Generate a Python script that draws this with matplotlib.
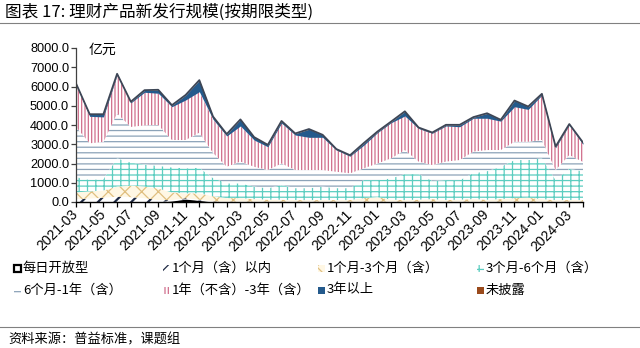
import numpy as np
import matplotlib
matplotlib.use('Agg')
import matplotlib.pyplot as plt
from matplotlib.patches import Rectangle
from matplotlib.lines import Line2D

plt.rcParams['font.family'] = ['Noto Sans CJK SC', 'DejaVu Sans']
plt.rcParams['hatch.linewidth'] = 0.9

months = ['2021-03', '2021-04', '2021-05', '2021-06', '2021-07', '2021-08', '2021-09', '2021-10',
          '2021-11', '2021-12', '2022-01', '2022-02', '2022-03', '2022-04', '2022-05', '2022-06',
          '2022-07', '2022-08', '2022-09', '2022-10', '2022-11', '2022-12', '2023-01', '2023-02',
          '2023-03', '2023-04', '2023-05', '2023-06', '2023-07', '2023-08', '2023-09', '2023-10',
          '2023-11', '2023-12', '2024-01', '2024-02', '2024-03', '2024-04']

# 亿元
daily_open = [0, 0, 0, 0, 0, 0, 0, 50, 150, 80, 0, 0, 0, 0, 0, 0, 0, 0, 0,
              0, 0, 0, 0, 0, 0, 0, 0, 0, 0, 0, 0, 0, 0, 0, 0, 0, 0, 0]
within_1m = [150, 180, 220, 280, 250, 200, 100, 50, 50, 40, 30, 20, 20, 20, 20, 20, 20, 20, 20,
             20, 20, 20, 20, 20, 20, 20, 20, 20, 20, 20, 20, 20, 20, 20, 20, 20, 20, 20]
m1_to_m3 = [350, 370, 380, 520, 600, 600, 600, 400, 250, 330, 270, 180, 180, 130, 100, 100, 80, 80, 80,
            80, 80, 180, 230, 100, 80, 100, 130, 80, 100, 130, 100, 130, 180, 200, 130, 80, 80, 80]
m3_to_m6 = [800, 600, 600, 1470, 1200, 1150, 1180, 1300, 1300, 1330, 950, 770, 770, 650, 600, 760, 620, 620, 700,
            620, 620, 940, 890, 1110, 1350, 1330, 950, 1040, 1020, 1350, 1480, 1680, 1980, 1960, 2120, 1050, 1620, 1500]
m6_to_1y = [2600, 1900, 1920, 2330, 1850, 2030, 2120, 1420, 1470, 1820, 1300, 860, 1130, 1030, 940, 1120, 940, 940, 860,
            850, 770, 610, 860, 1040, 1250, 650, 820, 960, 1040, 1120, 1100, 870, 950, 950, 950, 510, 720, 480]
y1_to_y3 = [2200, 1400, 1300, 2000, 1250, 1720, 1650, 1730, 2080, 2130, 1750, 1600, 1850, 1390, 1210, 2100, 1820, 1700, 1700,
            1130, 890, 1200, 1600, 1850, 1770, 1720, 1650, 1850, 1730, 1730, 1650, 1500, 1820, 1680, 2330, 1160, 1560, 920]
over_3y = [50, 100, 130, 50, 50, 100, 170, 70, 250, 590, 130, 90, 330, 140, 90, 100, 70, 420, 120,
           40, 40, 100, 50, 50, 230, 40, 30, 50, 90, 50, 250, 60, 310, 140, 60, 50, 40, 80]
undisclosed = [10, 10, 10, 10, 10, 10, 10, 10, 10, 10, 10, 10, 10, 10, 10, 10, 10, 10, 10,
               10, 10, 10, 10, 10, 10, 10, 10, 10, 10, 10, 10, 10, 10, 10, 10, 10, 10, 10]

labels = ['每日开放型', '1个月（含）以内', '1个月-3个月（含）', '3个月-6个月（含）',
          '6个月-1年（含）', '1年（不含）-3年（含）', '3年以上', '未披露']
series = [daily_open, within_1m, m1_to_m3, m3_to_m6, m6_to_1y, y1_to_y3, over_3y, undisclosed]
# (face, hatch colour, hatch, hatch linewidth)
styles = [('#000000', '#000000', None, 0.9),
          ('#FFFFFF', '#1F2A44', '//', 1.6),
          ('#FFF7E4', '#E0BF80', 'xx', 0.9),
          ('#FFFFFF', '#5CCDC0', '++-', 0.9),
          ('#FFFFFF', '#8CA3B8', '---', 0.9),
          ('#FFFFFF', '#D06E8C', '|||||', 0.9),
          ('#245A8C', '#245A8C', None, 0.9),
          ('#9A4A1C', '#9A4A1C', None, 0.9)]

fig = plt.figure(figsize=(6.4, 3.48), dpi=100)
W, H = 640, 348
ax = fig.add_axes([76 / W, 1 - 202 / H, (583 - 76) / W, (202 - 48) / H])

x = np.arange(len(months))
cum = np.cumsum(np.array(series, dtype=float), axis=0)
base = np.zeros(len(x))
for top, (fc, hc, h, hlw) in zip(cum, styles):
    coll = ax.fill_between(x, base, top, facecolor=fc, edgecolor=hc, hatch=h, linewidth=0)
    if h and hasattr(coll, 'set_hatch_linewidth'):
        try:
            coll.set_hatch_linewidth(hlw)
        except Exception:
            pass
    base = top
ax.plot(x, cum[-1], color='#3D4656', lw=1.3)

ax.set_xlim(0, len(months) - 1)
ax.set_ylim(0, 8000)
ax.set_xticks(x)
ax.set_xticklabels([m if i % 2 == 0 else '' for i, m in enumerate(months)],
                   rotation=45, ha='right', va='center', rotation_mode='anchor',
                   fontsize=10, family=['Liberation Sans', 'DejaVu Sans'])
yt = np.arange(0, 8001, 1000)
ax.set_yticks(yt)
ax.set_yticklabels([f'{v:.1f}' for v in yt], fontsize=9.2, family=['Liberation Sans', 'DejaVu Sans'])
ax.tick_params(axis='x', direction='out', length=3.5, width=0.9, pad=4, color='black')
ax.tick_params(axis='y', direction='out', length=3.5, width=0.9, pad=1.5, color='#404040')
for s in ['top', 'right']:
    ax.spines[s].set_visible(False)
ax.spines['bottom'].set_linewidth(1.0)
ax.spines['left'].set_color('#404040')
ax.spines['left'].set_linewidth(0.9)

fig.text(89 / W, 1 - 50 / H, '亿元', fontsize=10, va='center', ha='left')

fig.text(5 / W, 1 - 12 / H, '图表 17: 理财产品新发行规模(按期限类型)', fontsize=12,
         va='center', ha='left')
fig.add_artist(Line2D([0, 1], [1 - 23 / H] * 2, color='#808080', lw=0.8, transform=fig.transFigure))
fig.add_artist(Line2D([0, 1], [1 - 327 / H] * 2, color='#808080', lw=0.8, transform=fig.transFigure))
fig.text(8 / W, 1 - 340 / H, '资料来源：普益标准，课题组', fontsize=9.5, va='center', ha='left')

# legend (2 rows x 4 columns)
col_x = [14, 163, 318, 477]
row_y = [268, 290]
order = [(0, 0), (0, 1), (0, 2), (0, 3), (1, 0), (1, 1), (1, 2), (1, 3)]
for (r, c), lab, (fc, hc, h, hlw) in zip(order, labels, styles):
    px, py = col_x[c], row_y[r]
    if lab == '每日开放型':
        rect = Rectangle((px / W, 1 - (py + 3.5) / H), 7 / W, 7 / H, transform=fig.transFigure,
                         facecolor='white', edgecolor='black', linewidth=1.6)
    else:
        rect = Rectangle((px / W, 1 - (py + 3.5) / H), 7 / W, 7 / H, transform=fig.transFigure,
                         facecolor=fc, edgecolor=hc, hatch=h, linewidth=0)
    fig.add_artist(rect)
    fig.text((px + 9) / W, 1 - py / H, lab, fontsize=9.5, va='center', ha='left')

fig.savefig('out.png', dpi=100)
